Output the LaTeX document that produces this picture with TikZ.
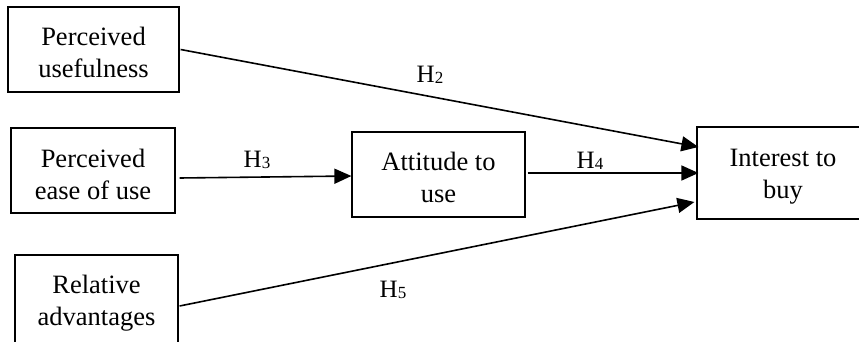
\documentclass[tikz,border=0pt]{standalone}
\usepackage{fontspec}
\setmainfont{Liberation Serif}
\usetikzlibrary{arrows.meta}
\newcommand{\hyp}[1]{H\raisebox{-0.5pt}{\fontsize{17}{17}\selectfont #1}}
\tikzset{
  box/.style={draw, line width=1.2pt, inner sep=0pt},
  txt/.style={align=center, inner sep=0pt, font=\fontsize{26.5}{32}\selectfont},
  arr/.style={line width=1.6pt, -{Triangle[length=17pt,width=15pt]}},
  lab/.style={font=\fontsize{25}{25}\selectfont, inner sep=0pt}
}
\begin{document}
\begin{tikzpicture}[x=1pt,y=-1pt]
\useasboundingbox (0,0) rectangle (859,342);
\clip (0,0) rectangle (859,342);
\node[box, minimum width=171pt, minimum height=85pt] (pu) at (93.5,49.5) {};
\node[box, minimum width=164pt, minimum height=85pt] (peu) at (93,170.5) {};
\node[box, minimum width=163pt, minimum height=97pt] (ra) at (96.5,303.5) {};
\node[box, minimum width=173pt, minimum height=85pt] (atu) at (438.5,174.5) {};
\node[box, minimum width=172pt, minimum height=92pt] (ib) at (783,173) {};
\node[txt] (put) at ([yshift=-2.5pt]pu.center) {Perceived\\usefulness};
\node[txt] (peut) at ([yshift=-3.5pt]peu.center) {Perceived\\ease of use};
\node[txt] (rat) at ([yshift=0pt]ra.center) {Relative\\advantages};
\node[txt] (atut) at ([yshift=-3pt]atu.center) {Attitude to\\use};
\node[txt] (ibt) at ([yshift=-4pt]ib.center) {Interest to\\buy};
\draw[arr] ([xshift=1pt]pu.east) -- ([xshift=2pt,yshift=26pt]ib.west);
\draw[arr] ([xshift=4pt,yshift=-7.5pt]peu.east) -- ([yshift=-1.5pt]atu.west);
\draw[arr] ([xshift=2pt,yshift=1.5pt]atu.east) -- ([xshift=2pt]ib.west);
\draw[arr] ([xshift=1pt,yshift=-2.5pt]ra.east) -- ([xshift=-2pt,yshift=-29pt]ib.west);
\node[lab] (h2) at (430,75) {\hyp{2}};
\node[lab] (h3) at (257,160) {\hyp{3}};
\node[lab] (h4) at (590,161) {\hyp{4}};
\node[lab] (h5) at (393,290) {\hyp{5}};
\end{tikzpicture}
\end{document}
